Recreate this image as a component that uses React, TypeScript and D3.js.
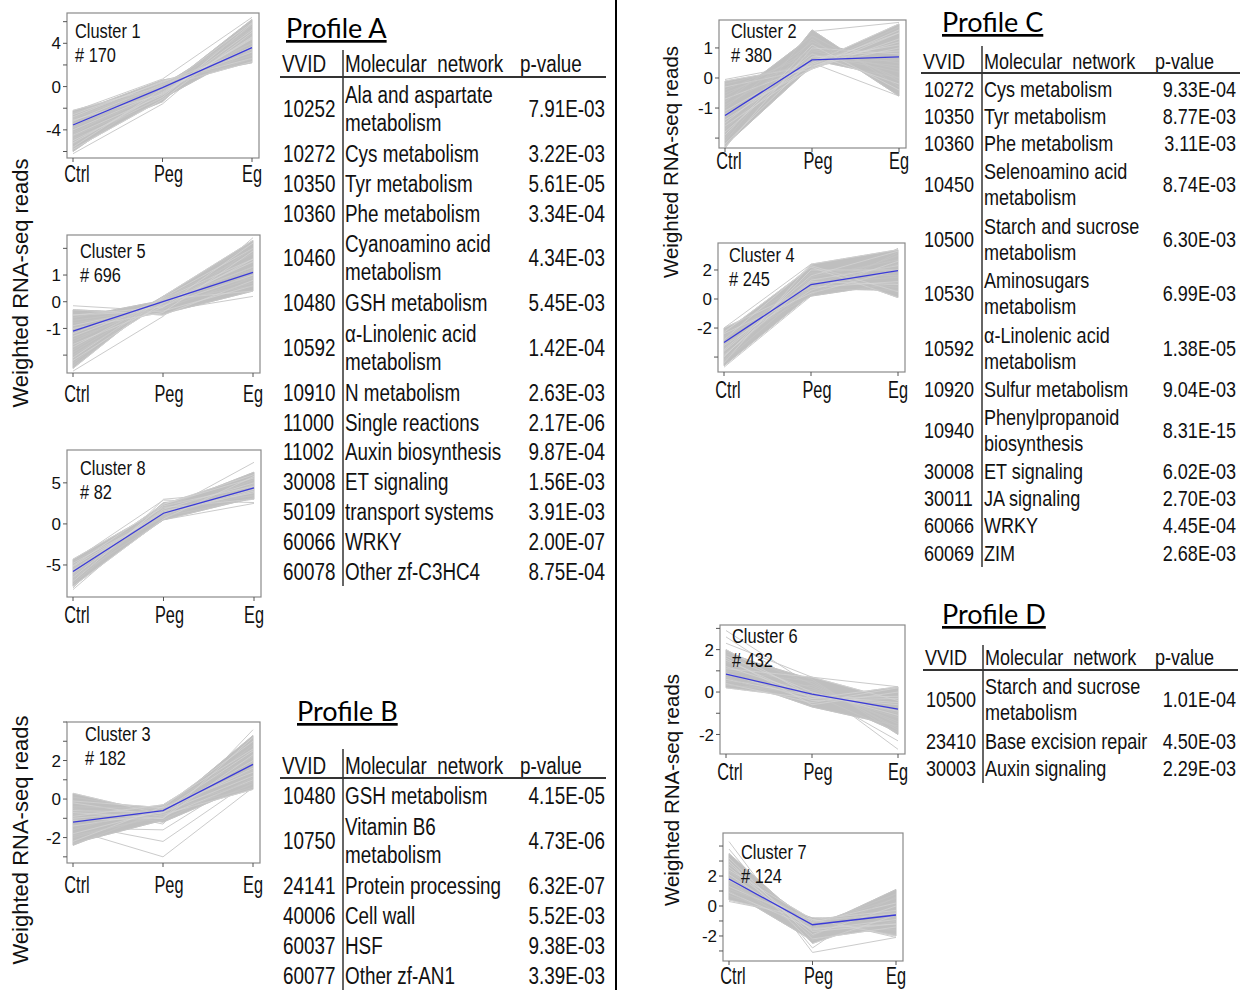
import React from 'react';
import * as d3 from 'd3';

// time points
const stages = ['Ctrl', 'Peg', 'Eg'];

// clusters, in drawing order: left column (1, 5, 8, 3), right column (2, 4, 6, 7)
const clusterNames = ['Cluster 1', 'Cluster 5', 'Cluster 8', 'Cluster 3', 'Cluster 2', 'Cluster 4', 'Cluster 6', 'Cluster 7'];
const geneCounts = ['# 170', '# 696', '# 82', '# 182', '# 380', '# 245', '# 432', '# 124'];

// cluster mean profiles (blue)
const meanProfiles = [
  [-3.55, -0.1, 3.6],
  [-1.1, 0.0, 1.1],
  [-5.8, 1.3, 4.4],
  [-1.2, -0.6, 1.8],
  [-1.25, 0.6, 0.7],
  [-3.0, 1.0, 1.95],
  [0.85, -0.1, -0.8],
  [1.8, -1.25, -0.6],
];

// individual gene profiles (grey)
const cluster1Genes = [
  [-2.2, 0.0, 2.3], [-2.5, 0.6, 2.2], [-2.8, 0.5, 2.6], [-3.0, 0.3, 2.9], [-3.2, 0.2, 3.2],
  [-3.4, 0.0, 3.4], [-3.6, -0.1, 3.7], [-3.8, -0.3, 4.0], [-4.0, -0.5, 4.4], [-4.2, -0.6, 4.8],
  [-4.5, -0.8, 5.2], [-4.8, -1.4, 6.2], [-5.0, -1.0, 5.8], [-5.3, -0.4, 5.6], [-5.6, -0.2, 5.9],
  [-6.0, -0.3, 6.2], [-5.8, -1.2, 5.0], [-2.4, -0.2, 2.6], [-2.6, 0.4, 3.5], [-4.4, 0.2, 4.0],
  [-3.1, -0.7, 4.6], [-4.6, -1.1, 3.4], [-5.2, -0.6, 4.5], [-2.9, 0.1, 5.3],
];
const cluster5Genes = [
  [-0.3, -0.5, 0.8], [-0.3, -0.45, 0.4], [-0.5, -0.35, 0.6], [-0.7, -0.25, 0.9], [-0.9, -0.15, 1.0],
  [-1.1, -0.05, 1.1], [-1.3, 0.0, 1.3], [-1.5, 0.05, 1.5], [-1.7, 0.1, 1.6], [-1.9, 0.12, 1.8],
  [-2.1, 0.15, 2.0], [-2.3, 0.2, 2.2], [-2.5, 0.2, 2.3], [-2.0, 0.0, 0.6], [-1.6, -0.2, 2.2],
  [-0.8, -0.3, 2.0], [-1.2, 0.1, 0.4], [-2.4, 0.1, 1.2], [-0.5, -0.2, 1.6], [-1.4, -0.1, 0.7],
  [-2.2, -0.05, 1.5], [-0.6, 0.05, 1.3], [-1.0, -0.4, 1.9], [-1.8, 0.2, 0.9],
];
const cluster8Genes = [
  [-4.3, 2.0, 3.0], [-4.6, 1.5, 3.5], [-4.8, 1.2, 4.0], [-5.0, 0.8, 4.5], [-5.2, 1.4, 4.2],
  [-5.4, 1.0, 4.8], [-5.6, 1.6, 3.8], [-5.8, 1.3, 4.4], [-6.0, 1.8, 5.0], [-6.2, 1.1, 5.4],
  [-6.5, 2.2, 4.6], [-6.8, 2.6, 3.4], [-7.0, 2.4, 6.0], [-7.3, 2.0, 6.3], [-7.6, 0.6, 5.8],
  [-6.6, 0.5, 3.2], [-5.1, 2.4, 5.6], [-5.5, 0.9, 3.1],
];
const cluster3Genes = [
  [0.3, -0.8, 0.5], [0.1, -0.6, 0.6], [-0.2, -0.9, 1.0], [-0.4, -0.5, 0.9], [-0.6, -0.7, 1.2],
  [-0.8, -0.4, 1.5], [-1.0, -0.6, 1.6], [-1.2, -0.5, 1.8], [-1.4, -0.7, 2.0], [-1.6, -0.3, 2.2],
  [-1.8, -0.6, 2.5], [-2.0, -0.8, 2.8], [-2.2, -0.4, 3.0], [-2.4, -0.6, 3.3], [-1.1, -1.0, 3.2],
  [-0.5, -1.2, 0.8], [-0.9, -0.3, 2.6], [-2.3, -1.1, 1.1], [-0.1, -0.45, 1.4], [-1.9, -0.9, 1.9],
  [-0.7, -1.0, 2.3],
];
const cluster2Genes = [
  [-0.1, 0.4, 1.0], [-0.2, 0.5, 0.6], [-0.3, 0.3, 1.5], [-0.5, 0.6, 0.0], [-0.7, 0.4, 1.2],
  [-0.9, 0.7, 0.4], [-1.1, 0.5, 1.8], [-1.3, 0.6, 0.7], [-1.5, 0.8, -0.2], [-1.7, 0.9, 0.3],
  [-1.9, 1.1, -0.4], [-2.1, 1.3, -0.6], [-2.3, 1.0, 0.8], [-2.0, 1.6, -0.3], [-1.6, 0.35, 1.6],
  [-0.8, 1.4, -0.1], [-1.2, 0.3, 1.3], [-0.4, 0.8, 0.2], [-2.2, 0.6, 1.1], [-1.0, 1.2, 0.0],
  [-1.4, 0.45, 1.5], [-0.6, 0.95, 0.5], [-1.8, 0.7, 0.9], [-2.25, 0.4, 1.7],
];
const cluster4Genes = [
  [-2.0, 0.8, 1.2], [-2.2, 1.4, 0.8], [-2.4, 0.4, 2.0], [-2.6, 1.1, 1.5], [-2.8, 2.3, 0.5],
  [-3.0, 1.0, 2.0], [-3.2, 0.6, 2.6], [-3.4, 1.8, 1.6], [-3.6, 1.3, 2.3], [-3.8, 0.9, 3.0],
  [-4.0, 2.0, 2.0], [-4.2, 1.5, 2.7], [-4.4, 2.4, 3.4], [-4.6, 0.3, 3.2], [-2.3, 2.2, 0.1],
  [-3.1, 0.2, 1.1], [-3.5, 1.6, 3.3], [-2.7, 0.7, 0.6], [-3.9, 1.2, 1.0], [-4.3, 0.8, 2.4],
];
const cluster6Genes = [
  [0.2, -0.3, -0.2], [0.3, 0.1, -1.0], [0.4, -0.5, 0.2], [0.5, 0.3, -1.5], [0.6, -0.2, -0.5],
  [0.8, 0.0, -1.2], [0.9, -0.4, -0.3], [1.0, 0.5, -1.8], [1.2, -0.1, -0.9], [1.4, 0.2, -1.4],
  [1.6, -0.6, 0.0], [1.8, 0.6, -2.0], [2.0, -0.2, -0.6], [1.9, 0.4, -1.7], [1.7, 0.0, -1.1],
  [0.7, -0.7, -1.6], [1.1, 0.7, -0.4], [0.35, -0.1, -1.9], [1.5, -0.3, 0.25],
];
const cluster7Genes = [
  [0.4, -0.9, -0.3], [0.7, -1.2, 0.5], [0.9, -1.5, -1.2], [1.1, -0.8, -0.8], [1.3, -1.1, 0.2],
  [1.5, -1.4, -1.6], [1.7, -1.0, -0.5], [1.9, -1.3, 0.8], [2.1, -1.6, -0.9], [2.3, -1.2, -1.9],
  [2.6, -1.9, 0.0], [2.9, -1.1, -0.4], [3.2, -2.2, -1.4], [3.5, -1.5, 1.1], [3.0, -2.5, -0.6],
  [1.0, -2.3, -1.0], [2.4, -0.9, -2.0], [1.6, -2.0, 0.6], [2.8, -1.7, -1.2],
];
// stray genes drawn as single thin lines outside the dense bundle
const cluster1Strays = [[-6.2, -1.6, 5.4], [-2.3, 0.7, 6.4]];
const cluster5Strays = [[-0.15, -0.35, 0.2], [-2.6, -0.55, 2.4]];
const cluster8Strays = [[-8.0, 1.5, 7.5], [-4.5, 2.9, 2.6], [-7.8, 3.0, 4.0], [-7.2, 0.5, 2.5]];
const cluster3Strays = [[-1.5, -1.6, 1.3], [-1.3, -2.2, 1.0], [-1.6, -3.0, 0.6], [-0.3, -1.3, 3.6]];
const cluster2Strays = [[-0.05, 0.5, -0.6], [-2.35, 1.55, 1.85]];
const cluster4Strays = [[-2.0, 2.4, 0.1], [-4.7, 0.2, 3.5]];
const cluster6Strays = [[2.9, 0.3, -2.7], [2.6, 0.0, -2.3], [2.3, 0.7, 0.25]];
const cluster7Strays = [[4.3, -3.1, -2.1], [3.8, -2.8, 1.0], [0.3, -0.8, -2.1]];

const geneProfiles = [
  cluster1Genes, cluster5Genes, cluster8Genes, cluster3Genes,
  cluster2Genes, cluster4Genes, cluster6Genes, cluster7Genes,
];
const strayProfiles = [
  cluster1Strays, cluster5Strays, cluster8Strays, cluster3Strays,
  cluster2Strays, cluster4Strays, cluster6Strays, cluster7Strays,
];

// enrichment tables
const profileAIds = ['10252', '10272', '10350', '10360', '10460', '10480', '10592', '10910', '11000', '11002', '30008', '50109', '60066', '60078'];
const profileANetworks = ['Ala and aspartate\nmetabolism', 'Cys metabolism', 'Tyr metabolism', 'Phe metabolism', 'Cyanoamino acid\nmetabolism', 'GSH metabolism', 'α-Linolenic acid\nmetabolism', 'N metabolism', 'Single reactions', 'Auxin biosynthesis', 'ET signaling', 'transport systems', 'WRKY', 'Other zf-C3HC4'];
const profileAPvalues = ['7.91E-03', '3.22E-03', '5.61E-05', '3.34E-04', '4.34E-03', '5.45E-03', '1.42E-04', '2.63E-03', '2.17E-06', '9.87E-04', '1.56E-03', '3.91E-03', '2.00E-07', '8.75E-04'];

const profileBIds = ['10480', '10750', '24141', '40006', '60037', '60077'];
const profileBNetworks = ['GSH metabolism', 'Vitamin B6\nmetabolism', 'Protein processing', 'Cell wall', 'HSF', 'Other zf-AN1'];
const profileBPvalues = ['4.15E-05', '4.73E-06', '6.32E-07', '5.52E-03', '9.38E-03', '3.39E-03'];

const profileCIds = ['10272', '10350', '10360', '10450', '10500', '10530', '10592', '10920', '10940', '30008', '30011', '60066', '60069'];
const profileCNetworks = ['Cys metabolism', 'Tyr metabolism', 'Phe metabolism', 'Selenoamino acid\nmetabolism', 'Starch and sucrose\nmetabolism', 'Aminosugars\nmetabolism', 'α-Linolenic acid\nmetabolism', 'Sulfur metabolism', 'Phenylpropanoid\nbiosynthesis', 'ET signaling', 'JA signaling', 'WRKY', 'ZIM'];
const profileCPvalues = ['9.33E-04', '8.77E-03', '3.11E-03', '8.74E-03', '6.30E-03', '6.99E-03', '1.38E-05', '9.04E-03', '8.31E-15', '6.02E-03', '2.70E-03', '4.45E-04', '2.68E-03'];

const profileDIds = ['10500', '23410', '30003'];
const profileDNetworks = ['Starch and sucrose\nmetabolism', 'Base excision repair', 'Auxin signaling'];
const profileDPvalues = ['1.01E-04', '4.50E-03', '2.29E-03'];

const tableHeader = ['VVID', 'Molecular  network', 'p-value'];
const yTitle = 'Weighted RNA-seq reads';

const SANS = "'Liberation Sans', Arial, sans-serif";
const TITLE_FONT = "Lato, 'Open Sans', sans-serif";
const SQUEEZE = 0.82; // no narrow face installed: squeeze Liberation Sans

// condensed text: Liberation Sans squeezed horizontally
function NText({ x, y, size, sx = SQUEEZE, anchor = 'start', dy = '0.36em', children }:
  { x: number; y: number; size: number; sx?: number; anchor?: string; dy?: string; children: React.ReactNode }) {
  return (
    <text transform={`translate(${x},${y}) scale(${sx},1)`} dy={dy} textAnchor={anchor as any}
      fontFamily={SANS} fontSize={size} fill="#111" xmlSpace="preserve" style={{ whiteSpace: 'pre' }}>
      {children}
    </text>
  );
}

// panel layout: box in page pixels, y domain, tick spacing and labelled ticks
const panels = [
  { x: 67, y: 13, w: 192, h: 145, lo: -6.6, hi: 6.8, step: 2, labels: [-4, 0, 4], tx: 75, ty: 30, xl: 173 },
  { x: 67, y: 235, w: 193, h: 138, lo: -2.67, hi: 2.5, step: 1, labels: [-1, 0, 1], tx: 80, ty: 250, xl: 393 },
  { x: 67, y: 450, w: 194, h: 147, lo: -8.9, hi: 9.0, step: 5, labels: [-5, 0, 5], tx: 80, ty: 467, xl: 614 },
  { x: 67, y: 722, w: 193, h: 141, lo: -3.32, hi: 4.0, step: 1, labels: [-2, 0, 2], tx: 85, ty: 733, xl: 884 },
  { x: 719, y: 20, w: 187, h: 128, lo: -2.33, hi: 1.93, step: 1, labels: [-1, 0, 1], tx: 731, ty: 30, xl: 160 },
  { x: 718, y: 243, w: 187, h: 129, lo: -5.03, hi: 3.86, step: 2, labels: [-2, 0, 2], tx: 729, ty: 254, xl: 389 },
  { x: 720, y: 625, w: 185, h: 129, lo: -2.92, hi: 3.16, step: 1, labels: [-2, 0, 2], tx: 732, ty: 635, xl: 771 },
  { x: 723, y: 833, w: 180, h: 128, lo: -3.67, hi: 4.87, step: 1, labels: [-2, 0, 2], tx: 741, ty: 851, xl: 975 },
];

function ClusterPanel({ i }: { i: number }) {
  const p = panels[i];
  const x = d3.scalePoint<string>().domain(stages).range([p.x + 6, p.x + p.w - 7]);
  const y = d3.scaleLinear().domain([p.lo, p.hi]).range([p.y + p.h, p.y]);
  const line = d3.line<number>().x((_, k) => x(stages[k]) as number).y(v => y(v));
  const genes = geneProfiles[i];

  // envelope of the dense bundle, traced along both segments
  const env: { px: number; lo: number; hi: number }[] = [];
  [0, 1].forEach(k => {
    const x0 = x(stages[k]) as number;
    const x1 = x(stages[k + 1]) as number;
    d3.range(0, 1.0001, 0.04).forEach(t => {
      if (k === 1 && t === 0) return;
      const vals = genes.map(g => g[k] + t * (g[k + 1] - g[k]));
      env.push({ px: x0 + t * (x1 - x0), lo: d3.min(vals) as number, hi: d3.max(vals) as number });
    });
  });
  const band = d3.area<{ px: number; lo: number; hi: number }>()
    .x(d => d.px).y0(d => y(d.lo)).y1(d => y(d.hi));

  const ticks = d3.range(Math.ceil(p.lo / p.step) * p.step, p.hi + 1e-9, p.step);
  const labelDx = [4, 6, 0];
  return (
    <g>
      <defs>
        <clipPath id={`clip${i}`}>
          <rect x={p.x} y={p.y} width={p.w} height={p.h} />
        </clipPath>
      </defs>
      <g clipPath={`url(#clip${i})`}>
        {strayProfiles[i].map((g, k) => (
          <path key={`s${k}`} d={line(g) || ''} fill="none" stroke="#cbcbcb" strokeWidth={1} />
        ))}
        <path d={band(env) || ''} fill="#bfbfbf" stroke="#bfbfbf" strokeWidth={1} />
        {genes.map((g, k) => (
          <path key={k} d={line(g) || ''} fill="none" stroke={k % 2 === 0 ? '#d6d6d6' : '#c6c6c6'} strokeWidth={0.7} />
        ))}
        <path d={line(meanProfiles[i]) || ''} fill="none" stroke="#3a3ad8" strokeWidth={1.3} />
      </g>
      <rect x={p.x} y={p.y} width={p.w} height={p.h} fill="none" stroke="#8a8a8a" strokeWidth={1.2} />
      {ticks.map(t => (
        <g key={t}>
          <line x1={p.x - 4} x2={p.x} y1={y(t)} y2={y(t)} stroke="#555" strokeWidth={1} />
          {p.labels.includes(t) && (
            <text x={p.x - 6} y={y(t)} dy="0.36em" textAnchor="end" fontFamily={SANS} fontSize={17} fill="#111">
              {t < 0 ? `-${Math.abs(t)}` : t}
            </text>
          )}
        </g>
      ))}
      {stages.map((s, k) => (
        <g key={s}>
          <line x1={x(s)} x2={x(s)} y1={p.y + p.h} y2={p.y + p.h + 4} stroke="#555" strokeWidth={1} />
          <NText x={(x(s) as number) + labelDx[k]} y={p.xl} size={24} sx={0.68} anchor="middle">{s}</NText>
        </g>
      ))}
      <NText x={p.tx} y={p.ty} size={21} sx={0.78}>{clusterNames[i]}</NText>
      <NText x={p.tx} y={p.ty + 24} size={21} sx={0.78}>{geneCounts[i]}</NText>
    </g>
  );
}

type TableLayout = {
  title: string; titleX: number; titleY: number;
  idX: number; netX: number; pHeadX: number; pRight: number;
  headY: number; lineY: number; lineX2: number; vx: number; vTop: number; vBottom: number;
  rowStart: number; step: number; dbl: number; font: number;
};

const tables: TableLayout[] = [
  { title: 'Profile A', titleX: 286, titleY: 38, idX: 282, netX: 345, pHeadX: 520, pRight: 605, headY: 64, lineY: 77, lineX2: 606, vx: 343, vTop: 50, vBottom: 586, rowStart: 79, step: 29.85, dbl: 14, font: 23 },
  { title: 'Profile B', titleX: 297, titleY: 721, idX: 282, netX: 345, pHeadX: 520, pRight: 605, headY: 766, lineY: 778, lineX2: 606, vx: 343, vTop: 749, vBottom: 990, rowStart: 781, step: 30, dbl: 14, font: 23 },
  { title: 'Profile C', titleX: 942, titleY: 32, idX: 923, netX: 984, pHeadX: 1155, pRight: 1236, headY: 61, lineY: 73, lineX2: 1240, vx: 982, vTop: 46, vBottom: 567, rowStart: 75, step: 27.3, dbl: 13, font: 22 },
  { title: 'Profile D', titleX: 942, titleY: 624, idX: 925, netX: 985, pHeadX: 1155, pRight: 1236, headY: 657, lineY: 670, lineX2: 1238, vx: 983, vTop: 645, vBottom: 783, rowStart: 672, step: 27.5, dbl: 13, font: 22 },
];
const tableIds = [profileAIds, profileBIds, profileCIds, profileDIds];
const tableNetworks = [profileANetworks, profileBNetworks, profileCNetworks, profileDNetworks];
const tablePvalues = [profileAPvalues, profileBPvalues, profileCPvalues, profileDPvalues];

function ProfileTable({ i }: { i: number }) {
  const t = tables[i];
  const ids = tableIds[i];
  const nets = tableNetworks[i];
  const pvals = tablePvalues[i];
  let yCursor = t.rowStart;
  const rows = ids.map((id, k) => {
    const parts = nets[k].split('\n');
    const h = parts.length * t.step;
    const c = yCursor + h / 2;
    yCursor += h;
    return { id, parts, p: pvals[k], c };
  });
  return (
    <g>
      <text x={t.titleX} y={t.titleY} fontFamily={TITLE_FONT} fontSize={27} fill="#000" textDecoration="underline">
        {t.title}
      </text>
      <NText x={t.idX} y={t.headY} size={t.font}>{tableHeader[0]}</NText>
      <NText x={t.netX} y={t.headY} size={t.font}>{tableHeader[1]}</NText>
      <NText x={t.pHeadX} y={t.headY} size={t.font}>{tableHeader[2]}</NText>
      <line x1={t.idX - 2} x2={t.lineX2} y1={t.lineY} y2={t.lineY} stroke="#333" strokeWidth={2} />
      <line x1={t.vx} x2={t.vx} y1={t.vTop} y2={t.vBottom} stroke="#333" strokeWidth={1.5} />
      {rows.map(r => (
        <g key={r.id}>
          <NText x={t.idX + 1} y={r.c} size={t.font}>{r.id}</NText>
          {r.parts.map((s, j) => (
            <NText key={j} x={t.netX} y={r.parts.length === 2 ? r.c + (j === 0 ? -t.dbl : t.dbl) : r.c} size={t.font}>{s}</NText>
          ))}
          <NText x={t.pRight} y={r.c} size={t.font} anchor="end">{r.p}</NText>
        </g>
      ))}
    </g>
  );
}

const yTitles = [
  { x: 28, y: 283, size: 22 },
  { x: 28, y: 840, size: 22 },
  { x: 678, y: 162, size: 20.5 },
  { x: 679, y: 790, size: 20.5 },
];

export default function App() {
  return (
    <svg width={1244} height={990} style={{ display: 'block', position: 'absolute', left: 0, top: 0, background: '#fff' }}>
      <rect width={1244} height={990} fill="#fff" />
      {yTitles.map((t, k) => (
        <text key={k} transform={`translate(${t.x},${t.y}) rotate(-90)`} textAnchor="middle" fontFamily={SANS} fontSize={t.size} fill="#111">
          {yTitle}
        </text>
      ))}
      {panels.map((_, i) => <ClusterPanel key={i} i={i} />)}
      {tables.map((_, i) => <ProfileTable key={i} i={i} />)}
      <line x1={616} x2={616} y1={0} y2={990} stroke="#000" strokeWidth={2} />
    </svg>
  );
}
